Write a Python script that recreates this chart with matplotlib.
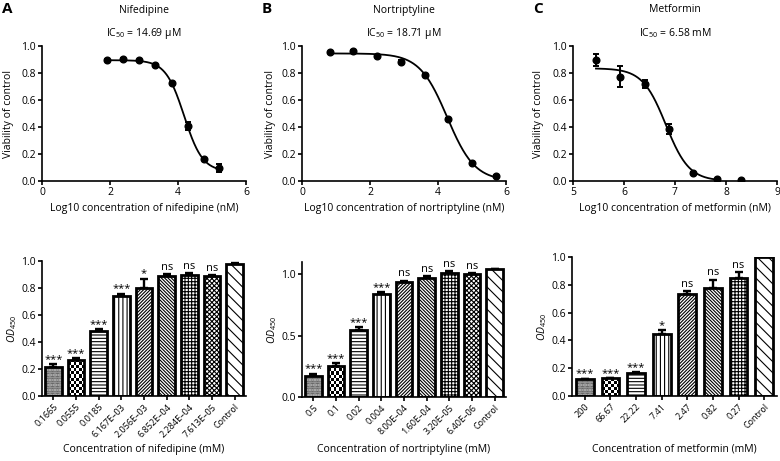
import numpy as np
import matplotlib
matplotlib.use('Agg')
import matplotlib.pyplot as plt

plt.rcParams['font.family'] = ['Open Sans', 'DejaVu Sans']
plt.rcParams['mathtext.fontset'] = 'custom'
plt.rcParams['mathtext.rm'] = 'Open Sans'
plt.rcParams['mathtext.it'] = 'Open Sans:italic'
plt.rcParams['hatch.linewidth'] = 0.8

# ---- dose-response data (log10 nM) ----
nif_logc = [1.90, 2.38, 2.86, 3.33, 3.81, 4.29, 4.75, 5.22]
nif_via = [0.897, 0.907, 0.894, 0.857, 0.725, 0.408, 0.165, 0.096]
nif_via_err = [0.005, 0.005, 0.005, 0.006, 0.008, 0.030, 0.006, 0.028]
nif_fit = [0.895, 0.07, 4.18, 1.6]  # top, bottom, logIC50, hill

nor_logc = [0.81, 1.51, 2.21, 2.91, 3.61, 4.30, 5.00, 5.70]
nor_via = [0.953, 0.966, 0.924, 0.885, 0.784, 0.457, 0.130, 0.037]
nor_via_err = [0.005, 0.005, 0.006, 0.008, 0.006, 0.006, 0.005, 0.004]
nor_fit = [0.945, 0.0, 4.27, 1.07]

met_logc = [5.45, 5.93, 6.41, 6.88, 7.35, 7.83, 8.30]
met_via = [0.894, 0.774, 0.717, 0.386, 0.059, 0.012, 0.007]
met_via_err = [0.045, 0.080, 0.030, 0.035, 0.006, 0.004, 0.003]
met_fit = [0.835, 0.0, 6.82, 1.9]
met_fit_end = 7.83

# ---- OD450 bar data ----
nif_labels = ['0.1665', '0.0555', '0.0185', '6.167E\u201303', '2.056E\u201303',
              '6.852E\u201304', '2.284E\u201304', '7.613E\u201305', 'Control']
nif_od = [0.212, 0.268, 0.478, 0.744, 0.803, 0.892, 0.899, 0.889, 0.980]
nif_od_err = [0.022, 0.010, 0.020, 0.014, 0.066, 0.014, 0.012, 0.008, 0.005]
nif_sig = ['***', '***', '***', '***', '*', 'ns', 'ns', 'ns', '']

nor_labels = ['0.5', '0.1', '0.02', '0.004', '8.00E\u201304', '1.60E\u201304',
              '3.20E\u201305', '6.40E\u201306', 'Control']
nor_od = [0.174, 0.255, 0.549, 0.842, 0.935, 0.970, 1.008, 1.000, 1.041]
nor_od_err = [0.016, 0.022, 0.022, 0.014, 0.013, 0.014, 0.016, 0.011, 0.005]
nor_sig = ['***', '***', '***', '***', 'ns', 'ns', 'ns', 'ns', '']

met_labels = ['200', '66.67', '22.22', '7.41', '2.47', '0.82', '0.27', 'Control']
met_od = [0.122, 0.127, 0.168, 0.446, 0.734, 0.775, 0.851, 1.000]
met_od_err = [0.003, 0.004, 0.004, 0.026, 0.019, 0.062, 0.041, 0.0]
met_sig = ['***', '***', '***', '*', 'ns', 'ns', 'ns', '']

hatches9 = ['..........', 'checker', '-----', '||||', '//////////', '\\\\\\\\\\\\\\\\\\\\',
            '+++++', 'xxxxxxx', '\\\\\\']
hatches8 = hatches9[:7] + hatches9[8:]

W, H = 780, 461
fig = plt.figure(figsize=(W / 100, H / 100), dpi=100)


def place(l, t, r, b):
    return fig.add_axes([l / W, 1 - b / H, (r - l) / W, (b - t) / H])


def style(ax):
    for s in ['top', 'right']:
        ax.spines[s].set_visible(False)
    for s in ['left', 'bottom']:
        ax.spines[s].set_linewidth(1.2)
    ax.tick_params(direction='out', length=3, width=1.2, labelsize=7.5, pad=1.5)


def sigmoid(x, top, bottom, logic, hill):
    return bottom + (top - bottom) / (1 + 10 ** ((x - logic) * hill))


def label_pos(ax, box, ylab_px, xlab_px):
    l, t, r, b = box
    ax.yaxis.set_label_coords((ylab_px - l) / (r - l), 0.5)
    ax.xaxis.set_label_coords(0.5, (b - xlab_px) / (b - t))


def dose_panel(box, x, y, err, fit, xend, xlim, xticks, xlabel, ylab_px):
    ax = place(*box)
    style(ax)
    xs = np.linspace(x[0], xend, 300)
    ax.plot(xs, sigmoid(xs, *fit), color='black', lw=1.3)
    ax.errorbar(x, y, yerr=err, fmt='o', color='black', ms=4.8,
                capsize=2.5, elinewidth=1.4, capthick=1.4)
    ax.set_xlim(xlim)
    ax.set_ylim(0, 1.0)
    ax.set_xticks(xticks)
    ax.set_yticks(np.arange(0, 1.01, 0.2))
    ax.set_yticklabels([f'{v:.1f}' for v in np.arange(0, 1.01, 0.2)])
    ax.set_xlabel(xlabel, fontsize=7.5, va='center')
    ax.set_ylabel('Viability of control', fontsize=7.5, va='center')
    label_pos(ax, box, ylab_px, 208)
    return ax


def checker(ax, bar, cell=3):
    x0, y0 = bar.get_x(), bar.get_y()
    w, h = bar.get_width(), bar.get_height()
    p0 = ax.transData.transform((x0, y0))
    p1 = ax.transData.transform((x0 + w, y0 + h))
    nx = max(1, int(round((p1[0] - p0[0]) / cell)))
    ny = max(1, int(round((p1[1] - p0[1]) / cell)))
    img = np.add.outer(np.arange(ny), np.arange(nx)) % 2
    im = ax.imshow(img, cmap='gray', extent=(x0, x0 + w, y0, y0 + h),
                   origin='lower', interpolation='nearest', aspect='auto', zorder=1)
    im.set_clip_path(bar)


def bar_panel(box, labels, vals, errs, sigs, hatches, ylim, yticks, xlabel, ylab_px, width):
    ax = place(*box)
    style(ax)
    x = np.arange(len(vals))
    ax.set_xlim(-0.5, len(vals) - 0.5)
    ax.set_ylim(*ylim)
    ax.errorbar(x, vals, yerr=[np.zeros(len(errs)), errs], fmt='none', ecolor='black',
                elinewidth=1.7, capsize=2.8, capthick=1.7, zorder=1)
    bars = ax.bar(x, vals, width=width, color='white', edgecolor='black', linewidth=2.0, zorder=2)
    for b, h in zip(bars, hatches):
        if h == 'checker':
            b.set_facecolor('none')
            checker(ax, b)
        else:
            b.set_hatch(h)
    for xi, v, e, s in zip(x, vals, errs, sigs):
        if s:
            off = 3.0 if s == 'ns' else 1.5
            ax.annotate(s, (xi, v + e), xytext=(0, off), textcoords='offset points',
                        ha='center', va='baseline', fontsize=8)
    ax.set_xlim(-0.5, len(vals) - 0.5)
    ax.set_ylim(*ylim)
    ax.set_yticks(yticks)
    ax.set_yticklabels([f'{v:.1f}' for v in yticks])
    ax.set_xticks(x)
    ax.set_xticklabels(labels, rotation=45, ha='right', rotation_mode='anchor', fontsize=6.5)
    ax.set_xlabel(xlabel, fontsize=7.5, va='center')
    ax.set_ylabel(r'$\mathit{OD}_{\mathregular{450}}$', fontsize=7.5, va='center')
    label_pos(ax, box, ylab_px, 449)
    return ax


boxA = (42, 46, 246, 181)
boxB = (302, 46, 506, 181)
boxC = (573, 46, 777, 181)
dose_panel(boxA, nif_logc, nif_via, nif_via_err, nif_fit, nif_logc[-1], (0, 6), [0, 2, 4, 6],
           'Log10 concentration of nifedipine (nM)', 9)
dose_panel(boxB, nor_logc, nor_via, nor_via_err, nor_fit, nor_logc[-1], (0, 6), [0, 2, 4, 6],
           'Log10 concentration of nortriptyline (nM)', 270)
dose_panel(boxC, met_logc, met_via, met_via_err, met_fit, met_fit_end, (5, 9), [5, 6, 7, 8, 9],
           'Log10 concentration of metformin (nM)', 539)

bar_panel((42, 261, 246, 396), nif_labels, nif_od, nif_od_err, nif_sig, hatches9,
          (0, 1.0), np.arange(0, 1.01, 0.2), 'Concentration of nifedipine (mM)', 12, 0.73)
bar_panel((302, 262, 506, 397), nor_labels, nor_od, nor_od_err, nor_sig, hatches9,
          (0, 1.1), [0.0, 0.5, 1.0], 'Concentration of nortriptyline (mM)', 272, 0.73)
bar_panel((572, 257, 777, 396), met_labels, met_od, met_od_err, met_sig, hatches8,
          (0, 1.0), np.arange(0, 1.01, 0.2), 'Concentration of metformin (mM)', 542, 0.69)

# titles and panel letters
titles = ['Nifedipine', 'Nortriptyline', 'Metformin']
ic50s = ['IC$_{\\mathregular{50}}$ = 14.69 \u03bcM', 'IC$_{\\mathregular{50}}$ = 18.71 \u03bcM',
         'IC$_{\\mathregular{50}}$ = 6.58 mM']
letters = ['A', 'B', 'C']
for box, t, ic, let, lx in zip([boxA, boxB, boxC], titles, ic50s, letters, [7, 267, 538]):
    cx = (box[0] + box[2]) / 2 / W
    fig.text(cx, 1 - 10 / H, t, ha='center', va='center', fontsize=7.5)
    fig.text(cx, 1 - 33 / H, ic, ha='center', va='center', fontsize=7.5)
    fig.text(lx / W, 1 - 9 / H, let, ha='center', va='center', fontsize=11, fontweight='bold')

fig.savefig('out.png', dpi=100)
